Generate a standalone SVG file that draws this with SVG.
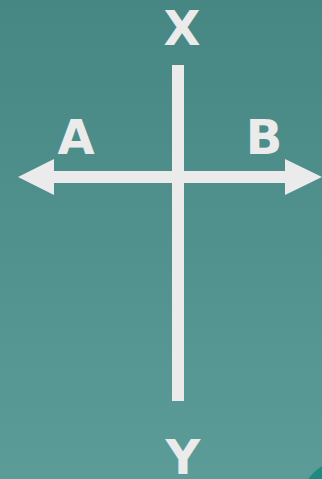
<svg xmlns="http://www.w3.org/2000/svg" width="322" height="479" viewBox="0 0 322 479">
<defs>
<linearGradient id="bg" x1="0" y1="0" x2="0" y2="1">
<stop offset="0" stop-color="#468683"/>
<stop offset="1" stop-color="#5b9c99"/>
</linearGradient>
<style>
.lbl{font-family:"DejaVu Sans",Verdana,sans-serif;font-weight:bold;font-size:48px;fill:#ebebeb;text-anchor:middle}
.ln{stroke:#ebebeb;stroke-width:12;fill:none}
.hd{fill:#ebebeb}
</style>
</defs>
<rect width="322" height="479" fill="url(#bg)"/>
<circle cx="345" cy="505" r="45" fill="#1c8a80"/>
<g id="connectors">
<line class="ln" x1="178" y1="65" x2="178" y2="401"/>
<line class="ln" x1="50" y1="177" x2="290" y2="177"/>
<polygon class="hd" points="18,177 54,159 54,195"/>
<polygon class="hd" points="322,177 285,159 285,195"/>
</g>
<g id="label-X"><text class="lbl" x="182" y="45">X</text></g>
<g id="label-A"><text class="lbl" x="76" y="154">A</text></g>
<g id="label-B"><text class="lbl" x="264" y="154">B</text></g>
<g id="label-Y"><text class="lbl" x="183" y="474">Y</text></g>
</svg>
